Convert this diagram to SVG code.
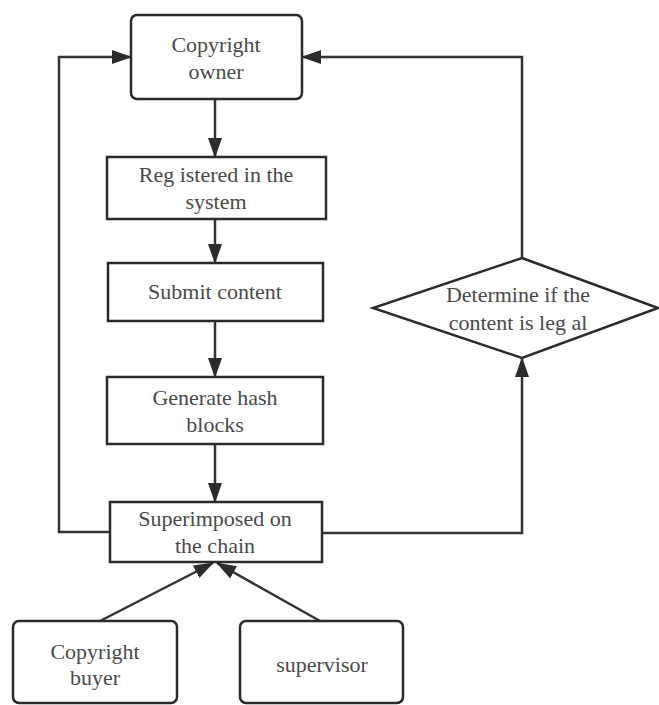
<svg xmlns="http://www.w3.org/2000/svg" width="659" height="705" viewBox="0 0 659 705">
<defs>
<marker id="ah" viewBox="0 0 20 14" refX="19" refY="7" markerWidth="20" markerHeight="14" markerUnits="userSpaceOnUse" orient="auto">
<path d="M0,0 L20,7 L0,14 Z" fill="#2b2b2b"/>
</marker>
<style>
.box{fill:#fff;stroke:#2b2b2b;stroke-width:2.5}
.ln{fill:none;stroke:#333;stroke-width:2.5}
text{font-family:'Liberation Serif','DejaVu Serif','Times New Roman',serif;font-size:22px;fill:#4a4a4a;text-anchor:middle}
</style>
</defs>
<rect width="659" height="705" fill="#fff"/>
<g id="connectors">
<line class="ln" x1="215" y1="99" x2="215" y2="157" marker-end="url(#ah)"/>
<line class="ln" x1="215" y1="219" x2="215" y2="263" marker-end="url(#ah)"/>
<line class="ln" x1="215" y1="321" x2="215" y2="377" marker-end="url(#ah)"/>
<line class="ln" x1="215" y1="444" x2="215" y2="502" marker-end="url(#ah)"/>
<polyline class="ln" points="110,532 59,532 59,57 131,57" marker-end="url(#ah)"/>
<polyline class="ln" points="322,533 522,533 522,358" marker-end="url(#ah)"/>
<polyline class="ln" points="522,258 522,57 302,57" marker-end="url(#ah)"/>
<line class="ln" x1="100" y1="621" x2="213" y2="563" marker-end="url(#ah)"/>
<line class="ln" x1="320" y1="621" x2="217" y2="563" marker-end="url(#ah)"/>
</g>
<g id="copyright-owner">
<rect class="box" x="131" y="15" width="171" height="84" rx="6"/>
<text x="216" y="52">Copyright</text>
<text x="216" y="79">owner</text>
</g>
<g id="registered">
<rect class="box" x="107" y="157" width="219" height="62"/>
<text x="216" y="182">Reg istered in the</text>
<text x="216" y="209">system</text>
</g>
<g id="submit">
<rect class="box" x="108" y="263" width="215" height="58"/>
<text x="215" y="299">Submit content</text>
</g>
<g id="generate">
<rect class="box" x="107" y="377" width="216" height="67"/>
<text x="215" y="405">Generate  hash</text>
<text x="215" y="432">blocks</text>
</g>
<g id="superimposed">
<rect class="box" x="110" y="502" width="212" height="60"/>
<text x="215" y="526">Superimposed on</text>
<text x="215" y="553">the chain</text>
</g>
<g id="determine">
<polygon class="box" points="522,258 658,308 522,358 373,308"/>
<text x="518" y="302">Determine if the</text>
<text x="518" y="330">content is leg al</text>
</g>
<g id="copyright-buyer">
<rect class="box" x="13" y="621" width="164" height="82" rx="6"/>
<text x="95" y="659">Copyright</text>
<text x="95" y="685">buyer</text>
</g>
<g id="supervisor">
<rect class="box" x="240" y="621" width="163" height="82" rx="6"/>
<text x="322" y="672">supervisor</text>
</g>
</svg>
